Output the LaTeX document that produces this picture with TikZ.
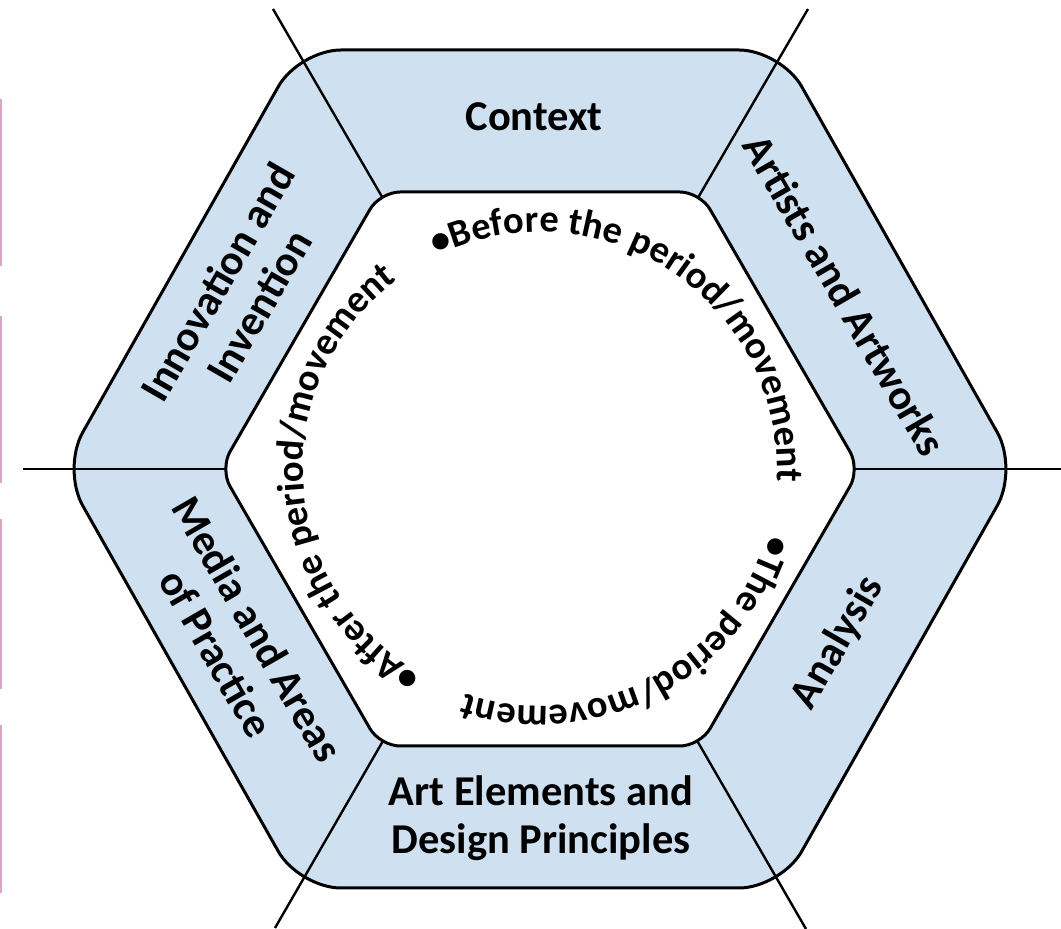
\documentclass[tikz,border=0pt]{standalone}
\usepackage{fontspec}
\setmainfont{Carlito}
\usetikzlibrary{decorations.text}
\definecolor{bandblue}{RGB}{207,225,241}
\definecolor{edgepink}{RGB}{214,168,198}
\begin{document}
\begin{tikzpicture}[x=1pt,y=1pt,
  band/.style={fill=bandblue,draw=black,line width=3pt,rounded corners=42pt},
  hole/.style={fill=white,draw=black,line width=3pt,rounded corners=20pt},
  spoke/.style={draw=black,line width=2.4pt},
  lbl/.style={font=\fontsize{42.5}{48}\selectfont\bfseries,align=center,inner sep=0pt},
  pinkbar/.style={draw=edgepink,line width=2.5pt}]
\useasboundingbox (0,0) rectangle (1061,929);
% centre and spoke ends
\coordinate (C) at (540,460);
\coordinate (eTL) at (273,920);
\coordinate (eTR) at (808,920);
\coordinate (eL) at (23,460);
\coordinate (eR) at (1061,460);
\coordinate (eBL) at (275,1);
\coordinate (eBR) at (806,0);
% pink margin bars
\draw[pinkbar] (1,830) -- (1,663);
\draw[pinkbar] (1,613) -- (1,446);
\draw[pinkbar] (1,410) -- (1,240);
\draw[pinkbar] (1,204) -- (1,36);
% outer hexagon
\path[band] (299,879) -- (781,879) -- (1018,460) -- (781,41) -- (299,41) -- (62,460) -- cycle;
% spokes
\foreach \e in {eTL,eTR,eL,eR,eBL,eBR} \draw[spoke] (C) -- (\e);
% inner hexagon
\path[hole] (380,737) -- (700,737) -- (860,460) -- (700,183) -- (380,183) -- (220,460) -- cycle;
% band labels
\node[lbl] (ctx) at (534,812) {Context};
\node[lbl,rotate=-60] (art) at (845,634) {Artists and Artworks};
\node[lbl,rotate=60] (ana) at (838,286) {Analysis};
\node[lbl] (ele) at (541,111) {Art Elements and\\Design Principles};
\node[lbl,rotate=-60] (med) at (237,288) {Media and Areas\\of Practice};
\node[lbl,rotate=60] (inn) at (238,635) {Innovation and\\Invention};
% circular texts
\path[decorate,decoration={text along path,text format delimiters={|}{|},
  text={|\fontsize{38.5}{40}\selectfont\bfseries|•Before the period/movement}}]
  (C) ++(116:237) arc[start angle=116,end angle=-12,radius=237];
\path[decorate,decoration={text along path,text format delimiters={|}{|},
  text={|\fontsize{38.5}{40}\selectfont\bfseries|•The period/movement}}]
  (C) ++(-16:237) arc[start angle=-16,end angle=-130,radius=237];
\path[decorate,decoration={text along path,text format delimiters={|}{|},
  text={|\fontsize{38.5}{40}\selectfont\bfseries|•After the period/movement}}]
  (C) ++(240:237) arc[start angle=240,end angle=100,radius=237];
\end{tikzpicture}
\end{document}
